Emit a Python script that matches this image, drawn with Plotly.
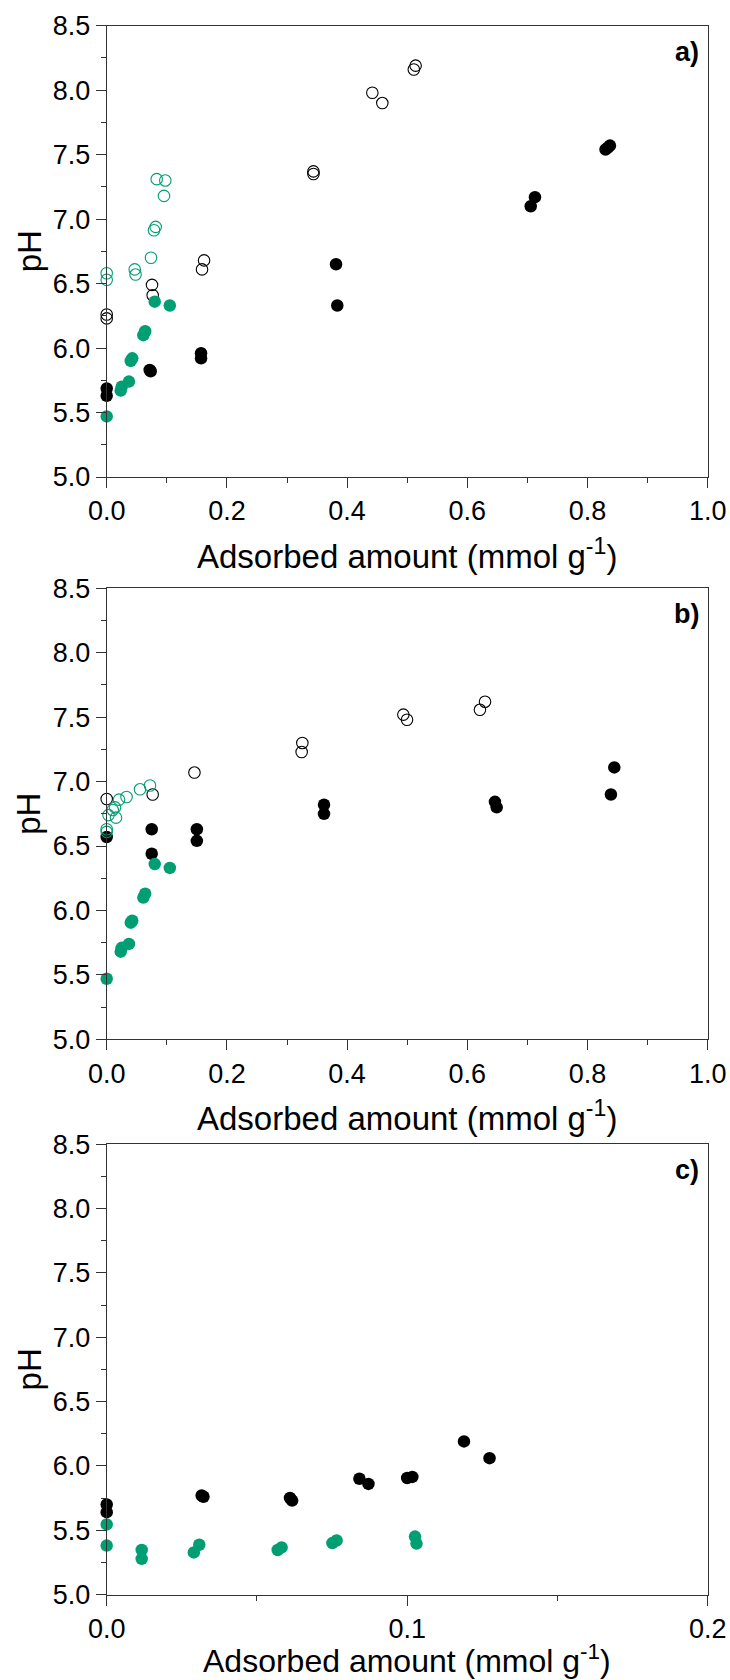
import plotly.graph_objects as go

GREEN = "#009E73"
BLACK = "#000000"

# ---------------- Panel a ----------------
a_black_filled_x = [0.0, 0.0, 0.0732, 0.0715, 0.157, 0.157, 0.3816, 0.3837, 0.7055, 0.7126, 0.830, 0.834, 0.8374]
a_black_filled_y = [5.687, 5.63, 5.82, 5.83, 5.96, 5.92, 6.65, 6.33, 7.10, 7.17, 7.54, 7.555, 7.57]
a_black_open_x = [0.0, 0.0, 0.0754, 0.0765, 0.162, 0.1586, 0.344, 0.344, 0.442, 0.4586, 0.511, 0.514]
a_black_open_y = [6.26, 6.23, 6.49, 6.41, 6.68, 6.61, 7.37, 7.35, 7.98, 7.90, 8.16, 8.19]
a_green_filled_x = [0.0, 0.0233, 0.025, 0.037, 0.040, 0.0425, 0.061, 0.064, 0.0799, 0.105]
a_green_filled_y = [5.47, 5.67, 5.70, 5.74, 5.90, 5.92, 6.10, 6.13, 6.36, 6.33]
a_green_open_x = [0.0, 0.0, 0.0466, 0.048, 0.0737, 0.0787, 0.0815, 0.0832, 0.0975, 0.0953]
a_green_open_y = [6.58, 6.53, 6.61, 6.57, 6.70, 6.914, 6.94, 7.31, 7.30, 7.18]

# ---------------- Panel b ----------------
b_black_filled_x = [0.0, 0.0749, 0.0749, 0.150, 0.150, 0.3616, 0.3616, 0.646, 0.6489, 0.8446, 0.839]
b_black_filled_y = [6.57, 6.63, 6.44, 6.63, 6.54, 6.82, 6.75, 6.843, 6.80, 7.11, 6.90]
b_black_open_x = [0.0, 0.0765, 0.146, 0.3255, 0.3244, 0.4936, 0.4997, 0.621, 0.6295]
b_black_open_y = [6.865, 6.90, 7.07, 7.30, 7.23, 7.52, 7.48, 7.557, 7.62]
b_green_filled_x = [0.0, 0.0233, 0.025, 0.037, 0.040, 0.0425, 0.061, 0.064, 0.0799, 0.105]
b_green_filled_y = [5.47, 5.68, 5.71, 5.74, 5.905, 5.92, 6.10, 6.13, 6.36, 6.33]
b_green_open_x = [0.0, 0.0, -0.001, 0.003, 0.010, 0.0155, 0.0138, 0.0205, 0.033, 0.0554, 0.072]
b_green_open_y = [6.61, 6.63, 6.715, 6.74, 6.78, 6.72, 6.80, 6.86, 6.88, 6.94, 6.97]

# ---------------- Panel c ----------------
c_black_filled_x = [0.0, 0.0, 0.0316, 0.0322, 0.061, 0.0617, 0.0841, 0.0871, 0.1000, 0.1017, 0.1189, 0.1274]
c_black_filled_y = [5.70, 5.64, 5.77, 5.76, 5.75, 5.73, 5.90, 5.86, 5.906, 5.914, 6.19, 6.06]
c_green_filled_x = [0.0, 0.0, 0.01165, 0.01165, 0.029, 0.0308, 0.0569, 0.0582, 0.0751, 0.0765, 0.1026, 0.1031]
c_green_filled_y = [5.545, 5.38, 5.346, 5.277, 5.327, 5.387, 5.346, 5.366, 5.40, 5.42, 5.45, 5.396]

panel_labels = ["a)", "b)", "c)"]
x_title = "Adsorbed amount (mmol g<sup>-1</sup>)"
y_title = "pH"

W, H = 730, 1680
FONT = "Liberation Sans, Arial, sans-serif"

# pixel geometry
x_left, x_right = 106.7, 707.7
panels_px = [(25.7, 477.0), (588.3, 1039.3), (1144.3, 1594.5)]


def py(p):
    return 1 - p / H


fig = go.Figure()


def filled(x, y, color, ax):
    return go.Scatter(x=x, y=y, mode="markers", xaxis=ax[0], yaxis=ax[1],
                      marker=dict(symbol="circle", size=12.5, color=color, line=dict(width=0)),
                      showlegend=False, cliponaxis=False)


def opened(x, y, color, ax):
    return go.Scatter(x=x, y=y, mode="markers", xaxis=ax[0], yaxis=ax[1],
                      marker=dict(symbol="circle-open", size=11.5, color=color, line=dict(width=1.1, color=color)),
                      showlegend=False, cliponaxis=False)


axes = [("x", "y"), ("x2", "y2"), ("x3", "y3")]

fig.add_trace(filled(a_black_filled_x, a_black_filled_y, BLACK, axes[0]))
fig.add_trace(opened(a_black_open_x, a_black_open_y, BLACK, axes[0]))
fig.add_trace(filled(a_green_filled_x, a_green_filled_y, GREEN, axes[0]))
fig.add_trace(opened(a_green_open_x, a_green_open_y, GREEN, axes[0]))

fig.add_trace(filled(b_black_filled_x, b_black_filled_y, BLACK, axes[1]))
fig.add_trace(opened(b_black_open_x, b_black_open_y, BLACK, axes[1]))
fig.add_trace(filled(b_green_filled_x, b_green_filled_y, GREEN, axes[1]))
fig.add_trace(opened(b_green_open_x, b_green_open_y, GREEN, axes[1]))

fig.add_trace(filled(c_black_filled_x, c_black_filled_y, BLACK, axes[2]))
fig.add_trace(filled(c_green_filled_x, c_green_filled_y, GREEN, axes[2]))

AXCOL = "#333333"
x_ranges = [(0, 1.0, 0.2, 0.1), (0, 1.0, 0.2, 0.1), (0, 0.2, 0.1, 0.05)]

layout = dict(width=W, height=H, margin=dict(l=0, r=0, t=0, b=0, autoexpand=False),
              paper_bgcolor="white", plot_bgcolor="white",
              font=dict(family=FONT, color="black"))

annotations = []
for i, (top, bot) in enumerate(panels_px):
    sfx = "" if i == 0 else str(i + 1)
    xr0, xr1, dt, mdt = x_ranges[i]
    layout["xaxis" + sfx] = dict(
        domain=[x_left / W, x_right / W], range=[xr0, xr1], anchor="y" + sfx,
        tick0=0, dtick=dt, tickformat=".1f", ticks="outside", ticklen=10, tickwidth=1,
        tickcolor=AXCOL, showline=True, linecolor=AXCOL, linewidth=1, mirror=True,
        showgrid=False, zeroline=False, automargin=False,
        tickfont=dict(size=27, family=FONT, color="black"),
        minor=dict(ticks="outside", ticklen=5, dtick=mdt, tick0=0, tickcolor=AXCOL, showgrid=False),
    )
    layout["yaxis" + sfx] = dict(
        domain=[py(bot), py(top)], range=[5.0, 8.5], anchor="x" + sfx,
        tick0=5.0, dtick=0.5, tickformat=".1f", ticks="outside", ticklen=10, tickwidth=1,
        tickcolor=AXCOL, showline=True, linecolor=AXCOL, linewidth=1, mirror=True,
        showgrid=False, zeroline=False, automargin=False,
        tickfont=dict(size=27, family=FONT, color="black"),
        minor=dict(ticks="outside", ticklen=5, dtick=0.25, tick0=5.0, tickcolor=AXCOL, showgrid=False),
    )
    # x title
    if i < 2:
        annotations.append(dict(text=x_title, xref="paper", yref="paper",
                                x=(x_left + x_right) / 2 / W, y=py(bot + 77),
                                xanchor="center", yanchor="middle", showarrow=False,
                                font=dict(size=33, family=FONT)))
    else:
        annotations.append(dict(text=x_title, xref="paper", yref="paper",
                                x=(x_left + x_right) / 2 / W, y=0.0,
                                xanchor="center", yanchor="bottom", showarrow=False,
                                borderpad=0, font=dict(size=32, family=FONT)))
    # y title
    annotations.append(dict(text=y_title, xref="paper", yref="paper",
                            x=29 / W, y=py((top + bot) / 2), textangle=-90,
                            xanchor="center", yanchor="middle", showarrow=False,
                            font=dict(size=33, family=FONT)))
    # panel label
    annotations.append(dict(text="<b>%s</b>" % panel_labels[i], xref="paper", yref="paper",
                            x=701 / W, y=py(top + 26), xanchor="right", yanchor="middle",
                            showarrow=False, font=dict(size=27, family=FONT)))

layout["annotations"] = annotations
fig.update_layout(**layout)
fig.write_html("out.html")
